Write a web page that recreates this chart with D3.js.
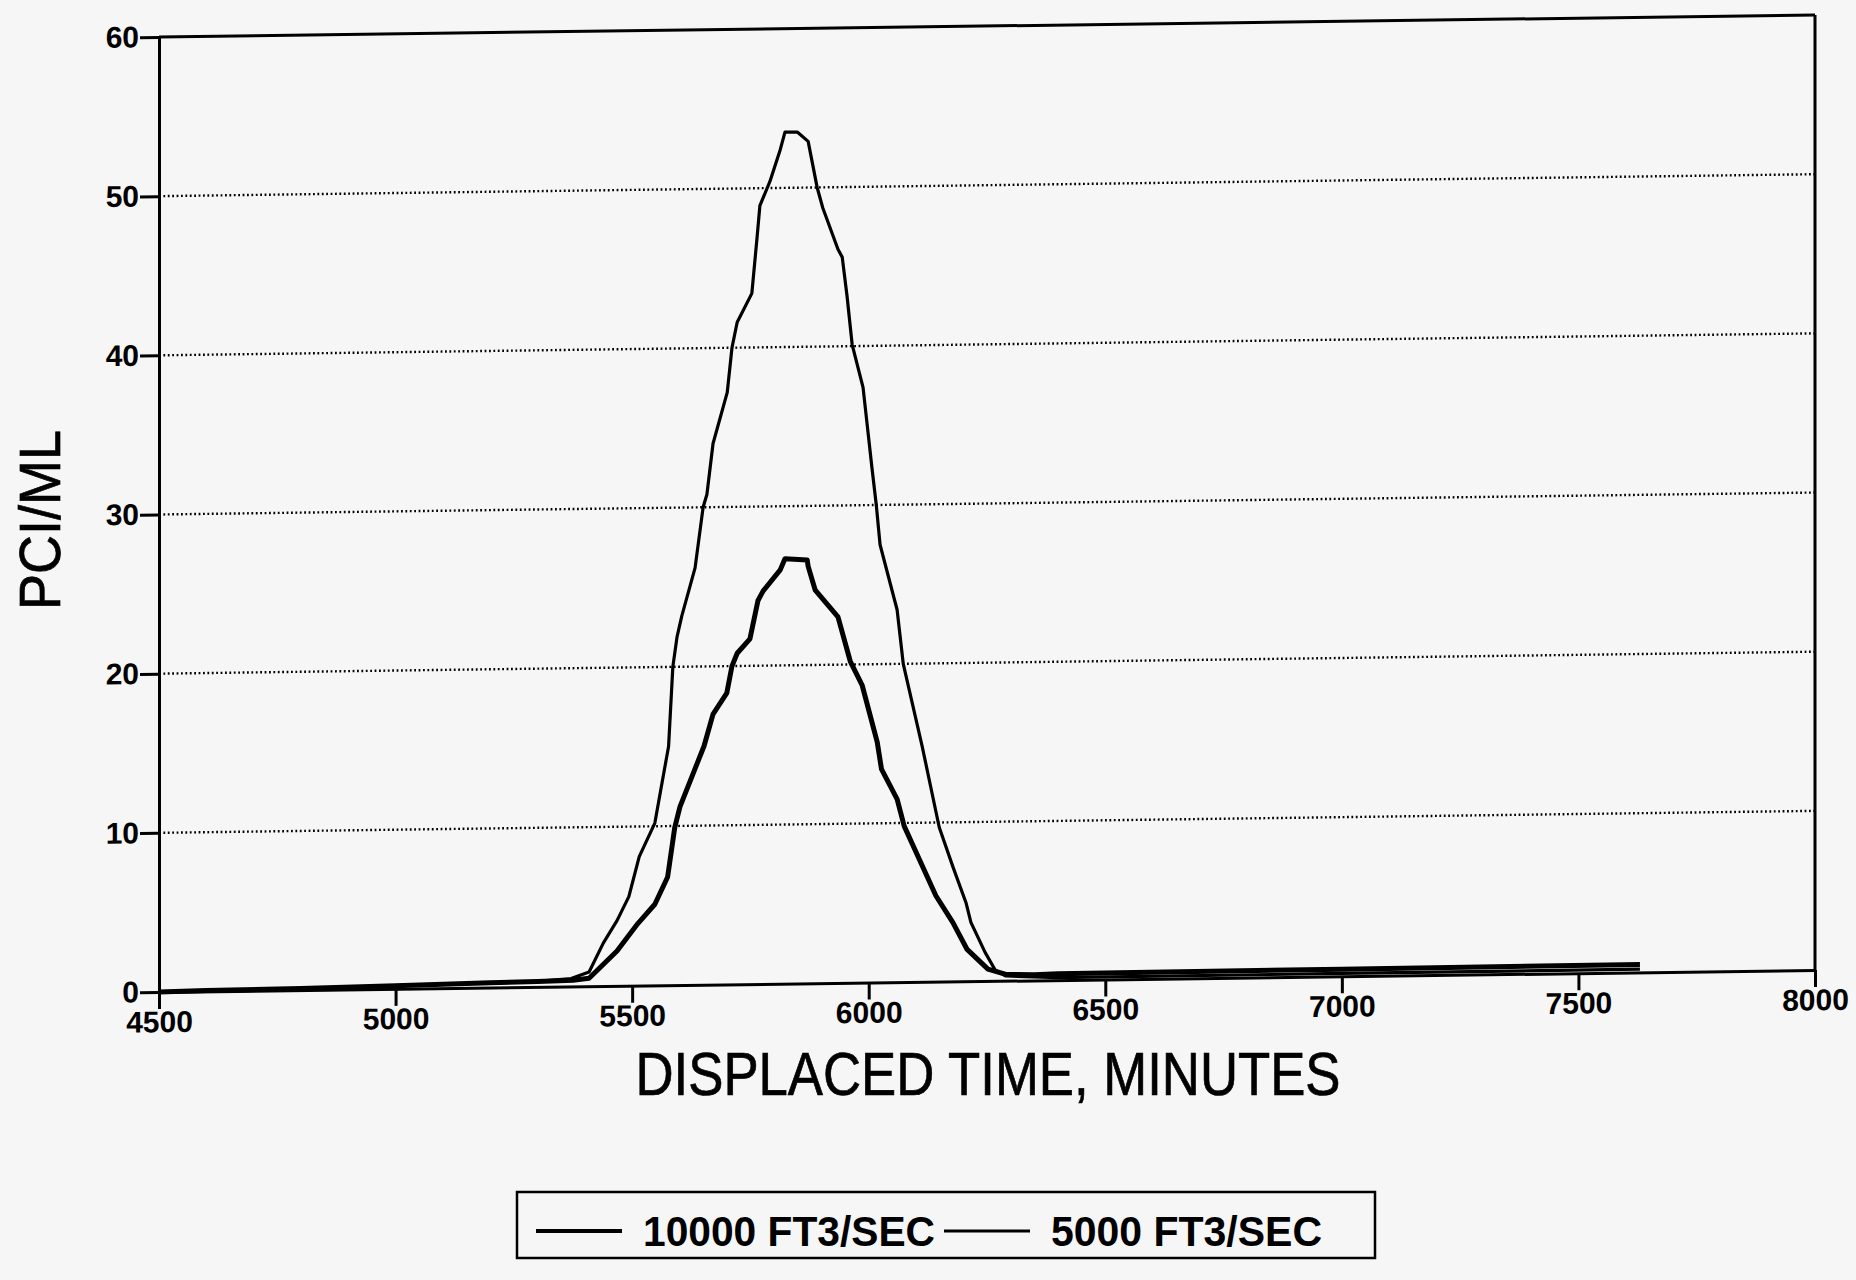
<!DOCTYPE html>
<html>
<head>
<meta charset="utf-8">
<script src="https://cdn.jsdelivr.net/npm/d3@7"></script>
<style>
  body { margin: 0; background: #f6f6f6; }
  svg { display: block; font-family: "Liberation Sans", Arial, sans-serif; }
  .axis path, .axis line { stroke: #000; stroke-width: 3; }
  .axis text { fill: #000; font-size: 30px; font-weight: bold; }
  .grid { stroke: #000; stroke-width: 2.4; stroke-dasharray: 1.8 2.6; }
  .title { fill: #000; stroke: #000; stroke-width: 0.7; }
</style>
</head>
<body>
<svg id="chart" width="1856" height="1280"></svg>
<script>
// values
var xTicks = [4500, 5000, 5500, 6000, 6500, 7000, 7500, 8000];
var yTicks = [0, 10, 20, 30, 40, 50, 60];
var gridTicks = [10, 20, 30, 40, 50];

var time5000 = [4500, 4600, 4800, 5000, 5200, 5300, 5371, 5409, 5439, 5468, 5493, 5515, 5548, 5563, 5577,
  5586, 5595, 5605, 5633, 5650, 5658, 5671, 5701, 5711, 5722, 5753, 5764, 5770, 5791, 5813, 5823,
  5849, 5872, 5891, 5903, 5935, 5944, 5954, 5965, 5988, 6007, 6016, 6024, 6060, 6073, 6113, 6149,
  6178, 6206, 6216, 6246, 6267, 6290, 6400, 7000, 7630];
var conc5000 = [0, 0.05, 0.1, 0.2, 0.3, 0.35, 0.5, 0.9, 2.7, 4.1, 5.6, 8.1, 10.2, 12.7, 15.0,
  20.0, 21.9, 23.2, 26.2, 30.0, 30.8, 34.0, 37.2, 40.0, 41.6, 43.4, 46.9, 48.9, 50.4, 52.4, 53.5,
  53.5, 52.9, 50.0, 48.7, 46.1, 45.6, 43.2, 40.1, 37.4, 32.3, 30.0, 27.5, 23.4, 20.0, 14.8, 9.7,
  7.2, 4.9, 3.7, 1.8, 0.7, 0.3, 0.15, 0.18, 0.2];

var time10000 = [4500, 4600, 4800, 5000, 5200, 5300, 5375, 5409, 5468, 5512, 5548, 5575, 5590, 5601,
  5652, 5671, 5700, 5711, 5722, 5749, 5766, 5777, 5813, 5823, 5870, 5872, 5887, 5935, 5961, 5986,
  6018, 6027, 6060, 6075, 6104, 6142, 6178, 6208, 6252, 6290, 6350, 6400, 7000, 7630];
var conc10000 = [0, 0.05, 0.1, 0.2, 0.3, 0.35, 0.4, 0.5, 2.2, 3.9, 5.1, 6.8, 9.9, 11.2,
  15.0, 17.0, 18.3, 20.0, 20.8, 21.7, 24.1, 24.7, 26.0, 26.7, 26.6, 26.2, 24.7, 23.0, 20.2, 18.7,
  15.1, 13.4, 11.5, 9.8, 7.9, 5.4, 3.7, 2.0, 0.75, 0.4, 0.35, 0.4, 0.45, 0.5];

var seriesNames = ["10000 FT3/SEC", "5000 FT3/SEC"];
var xTitle = "DISPLACED TIME, MINUTES";
var yTitle = "PCI/ML";

var svg = d3.select("#chart"),
    margin = {top: 37, left: 159},
    width = 1656,
    height = 955;

svg.append("rect").attr("width", 1856).attr("height", 1280).attr("fill", "#f6f6f6");

// the scan is slightly sheared, so the plot area is skewed a little
var g = svg.append("g")
    .attr("transform", "translate(" + margin.left + "," + margin.top + ") skewY(-0.76)");

var x = d3.scaleLinear().domain([4500, 8000]).range([0, width]);
var y = d3.scaleLinear().domain([0, 60]).range([height, 0]);

g.selectAll(".grid")
  .data(gridTicks)
  .enter().append("line")
    .attr("class", "grid")
    .attr("x1", 0).attr("x2", width)
    .attr("y1", function(d) { return y(d); })
    .attr("y2", function(d) { return y(d); });

// frame: top and right
g.append("line")
    .attr("x1", 0).attr("x2", width)
    .attr("y1", y(60)).attr("y2", y(60))
    .attr("stroke", "#000").attr("stroke-width", 3);
g.append("line")
    .attr("x1", x(8000)).attr("x2", x(8000))
    .attr("y1", y(60)).attr("y2", y(0))
    .attr("stroke", "#000").attr("stroke-width", 3);

g.append("g")
    .attr("class", "axis axis--x")
    .attr("transform", "translate(0," + height + ")")
    .call(d3.axisBottom(x).tickValues(xTicks).tickSize(17).tickSizeOuter(0).tickPadding(2)
      .tickFormat(d3.format("d")));

g.append("g")
    .attr("class", "axis axis--y")
    .call(d3.axisLeft(y).tickValues(yTicks).tickSize(19).tickSizeOuter(0).tickPadding(1));

var line = d3.line()
    .x(function(d) { return x(d.t); })
    .y(function(d) { return y(d.v); });

var s5000 = time5000.map(function(t, i) { return {t: t, v: conc5000[i]}; });
var s10000 = time10000.map(function(t, i) { return {t: t, v: conc10000[i]}; });

g.append("path")
    .attr("d", line(s5000))
    .attr("fill", "none")
    .attr("stroke", "#000")
    .attr("stroke-width", 3.2)
    .attr("stroke-linejoin", "round");

g.append("path")
    .attr("d", line(s10000))
    .attr("fill", "none")
    .attr("stroke", "#000")
    .attr("stroke-width", 5)
    .attr("stroke-linejoin", "round");

// axis titles
svg.append("text")
    .attr("class", "title")
    .attr("transform", "translate(60,520) rotate(-90)")
    .attr("text-anchor", "middle")
    .attr("font-size", 58)
    .attr("textLength", 180)
    .attr("lengthAdjust", "spacingAndGlyphs")
    .text(yTitle);

svg.append("text")
    .attr("class", "title")
    .attr("x", 988)
    .attr("y", 1095)
    .attr("text-anchor", "middle")
    .attr("font-size", 62)
    .attr("textLength", 705)
    .attr("lengthAdjust", "spacingAndGlyphs")
    .text(xTitle);

// legend
var legend = svg.append("g");
legend.append("rect")
    .attr("x", 517).attr("y", 1192)
    .attr("width", 858).attr("height", 66)
    .attr("fill", "none").attr("stroke", "#000").attr("stroke-width", 2.5);

var legendItems = [
  {name: seriesNames[0], x1: 536, x2: 622, tx: 643, tw: 292, sw: 4},
  {name: seriesNames[1], x1: 944, x2: 1030, tx: 1051, tw: 271, sw: 2.8}
];
legendItems.forEach(function(d) {
  legend.append("line")
      .attr("x1", d.x1).attr("x2", d.x2)
      .attr("y1", 1231).attr("y2", 1231)
      .attr("stroke", "#000").attr("stroke-width", d.sw);
  legend.append("text")
      .attr("x", d.tx).attr("y", 1246)
      .attr("font-size", 42)
      .attr("font-weight", "bold")
      .attr("textLength", d.tw)
      .attr("lengthAdjust", "spacingAndGlyphs")
      .text(d.name);
});
</script>
</body>
</html>
